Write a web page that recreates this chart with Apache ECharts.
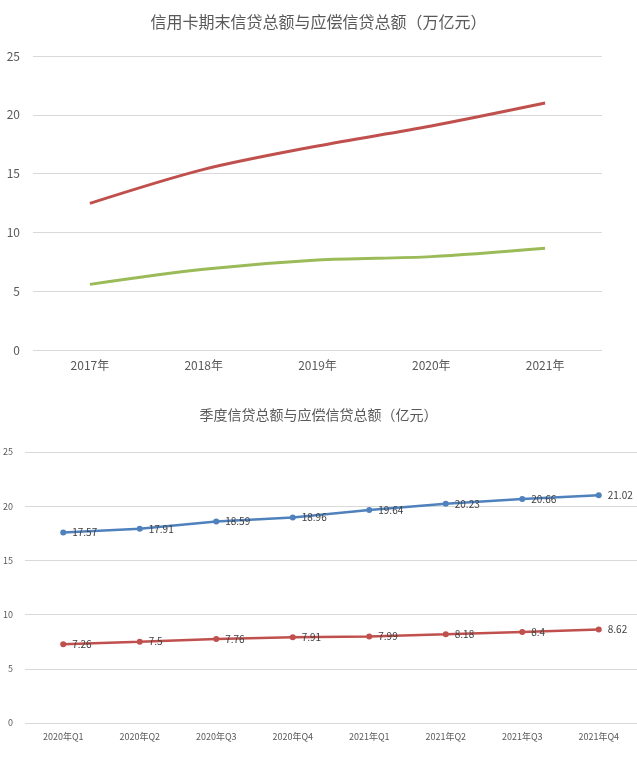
<!DOCTYPE html>
<html><head><meta charset="utf-8">
<script src="https://cdn.jsdelivr.net/npm/echarts@6/dist/echarts.min.js"></script>
<style>html,body{margin:0;padding:0;background:#fff}#c{width:637px;height:761px}</style>
</head><body><div id="c"></div>
<script>
const yearCats = ['2017年','2018年','2019年','2020年','2021年'];
const yearTotal = [12.47, 15.36, 17.35, 19.05, 21.0];
const yearRepay = [5.58, 6.86, 7.65, 7.94, 8.65];
const quarterCats = ['2020年Q1','2020年Q2','2020年Q3','2020年Q4','2021年Q1','2021年Q2','2021年Q3','2021年Q4'];
const quarterTotal = [17.57, 17.91, 18.59, 18.96, 19.64, 20.23, 20.66, 21.02];
const quarterRepay = [7.26, 7.5, 7.76, 7.91, 7.99, 8.18, 8.4, 8.62];
const title1 = '信用卡期末信贷总额与应偿信贷总额（万亿元）';
const title2 = '季度信贷总额与应偿信贷总额（亿元）';

const font = 'Noto Sans CJK SC';
const chart = echarts.init(document.getElementById('c'));
const yAxisCommon = (m, fs) => ({
  type:'value', min:0, max:25, interval:5,
  axisLine:{show:false}, axisTick:{show:false},
  axisLabel:{color:'#595959', fontSize:fs, fontFamily:font, margin:m},
  splitLine:{lineStyle:{color:'#d9d9d9', width:1}}
});
const xAxisCommon = (fs, m) => ({
  type:'category', boundaryGap:true,
  axisLine:{show:false}, axisTick:{show:false},
  axisLabel:{color:'#595959', fontSize:fs, fontFamily:font, margin:m, interval:0}
});
const lbl = {show:true, position:'right', distance:6, color:'#404040', fontSize:10, fontFamily:font};
chart.setOption({
  animation:false,
  backgroundColor:'#fff',
  title:[
    {text:title1, left:'center', top:9, textStyle:{color:'#595959', fontSize:16, fontWeight:'normal', fontFamily:font}},
    {text:title2, left:'center', top:403, textStyle:{color:'#595959', fontSize:14, fontWeight:'normal', fontFamily:font}}
  ],
  grid:[
    {left:33, right:35, top:56, bottom:411},
    {left:24, right:0, top:452, bottom:38}
  ],
  xAxis:[
    Object.assign(xAxisCommon(12, 9), {gridIndex:0, data:yearCats}),
    Object.assign(xAxisCommon(9, 9), {gridIndex:1, data:quarterCats})
  ],
  yAxis:[
    Object.assign(yAxisCommon(13, 12), {gridIndex:0}),
    Object.assign(yAxisCommon(12, 9), {gridIndex:1})
  ],
  series:[
    {type:'line', xAxisIndex:0, yAxisIndex:0, data:yearTotal, smooth:0.3, symbol:'none', lineStyle:{color:'#c0504d', width:3}},
    {type:'line', xAxisIndex:0, yAxisIndex:0, data:yearRepay, smooth:0.3, symbol:'none', lineStyle:{color:'#9bbb59', width:3}},
    {type:'line', xAxisIndex:1, yAxisIndex:1, data:quarterTotal, symbol:'circle', symbolSize:6, itemStyle:{color:'#4f81bd'}, lineStyle:{color:'#4f81bd', width:2.5}, label:lbl},
    {type:'line', xAxisIndex:1, yAxisIndex:1, data:quarterRepay, symbol:'circle', symbolSize:6, itemStyle:{color:'#c0504d'}, lineStyle:{color:'#c0504d', width:2.5}, label:lbl}
  ]
});
</script></body></html>
